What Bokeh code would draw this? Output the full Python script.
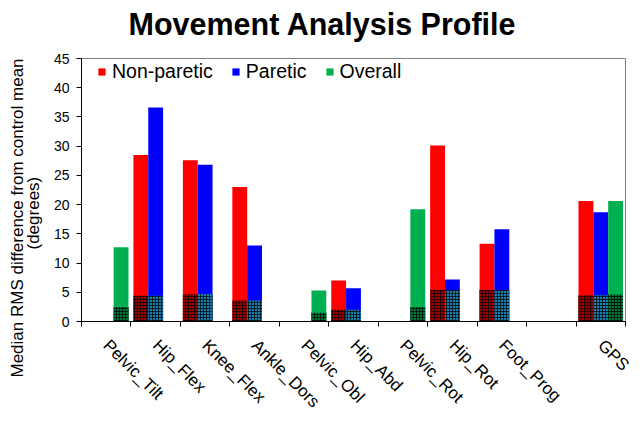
import math
from bokeh.plotting import figure
from bokeh.models import (Range1d, FixedTicker, LinearAxis, Legend, LegendItem,
                          ColumnDataSource, Title)
from bokeh.embed import file_html
from bokeh.resources import INLINE

nan = float("nan")

categories = ["Pelvic_Tilt", "Hip_Flex", "Knee_Flex", "Ankle_Dors", "Pelvic_Obl",
              "Hip_Abd", "Pelvic_Rot", "Hip_Rot", "Foot_Prog", "", "GPS"]
non_paretic = [nan, 28.5, 27.6, 23.0, nan, 7.0, nan, 30.1, 13.3, nan, 20.6]
paretic = [nan, 36.6, 26.8, 13.0, nan, 5.7, nan, 7.2, 15.8, nan, 18.7]
overall = [12.7, nan, nan, nan, 5.3, nan, 19.2, nan, nan, nan, 20.6]
non_paretic_base = [nan, 4.4, 4.7, 3.6, nan, 2.0, nan, 5.4, 5.4, nan, 4.5]
paretic_base = [nan, 4.4, 4.7, 3.6, nan, 2.0, nan, 5.4, 5.4, nan, 4.5]
overall_base = [2.5, nan, nan, nan, 1.5, nan, 2.5, nan, nan, nan, 4.6]
y_ticks = [0, 5, 10, 15, 20, 25, 30, 35, 40, 45]

FONT = "Liberation Sans"
n = len(categories)
centers = [i + 0.5 for i in range(n)]
bw = 0.3

p = figure(width=640, height=423, output_backend="svg", toolbar_location=None,
           x_range=Range1d(0, n), y_range=Range1d(0, 45),
           x_axis_type=None, y_axis_type=None)
p.min_border_left = 81
p.min_border_right = 15
p.min_border_top = 58
p.min_border_bottom = 102
p.background_fill_color = "white"
p.border_fill_color = "white"
p.outline_line_color = "#808080"
p.outline_line_width = 1

# axes
yax = LinearAxis(ticker=FixedTicker(ticks=y_ticks))
yax.major_label_text_font = FONT
yax.major_label_text_font_size = "14px"
yax.major_label_text_color = "black"
yax.axis_line_color = "black"
yax.major_tick_line_color = "black"
yax.major_tick_out = 5
yax.major_tick_in = 0
yax.minor_tick_line_color = None
yax.major_label_standoff = 7
p.add_layout(yax, "left")

xax = LinearAxis(ticker=FixedTicker(ticks=centers, minor_ticks=list(range(n + 1))))
xax.major_label_overrides = {c: name for c, name in zip(centers, categories)}
xax.major_label_orientation = -math.pi / 4
xax.major_label_text_font = FONT
xax.major_label_text_font_size = "17px"
xax.major_label_text_color = "black"
xax.major_tick_line_color = None
xax.major_tick_out = 0
xax.major_tick_in = 0
xax.minor_tick_line_color = "black"
xax.minor_tick_out = 5
xax.minor_tick_in = 0
xax.axis_line_color = "black"
xax.major_label_standoff = 16
p.add_layout(xax, "below")

p.ygrid.ticker = FixedTicker(ticks=y_ticks[1:])
p.ygrid.grid_line_color = "#8c8c8c"
p.ygrid.grid_line_width = 1
p.xgrid.grid_line_color = None

src = ColumnDataSource(dict(
    x=centers,
    x_np=[c - bw for c in centers],
    x_p=centers,
    x_o=[c + bw for c in centers],
    np_top=non_paretic, p_top=paretic, o_top=overall,
    np_base=non_paretic_base, p_base=paretic_base, o_base=overall_base,
))

r_np = p.vbar(x="x_np", top="np_top", width=bw, source=src, fill_color="#ff0000", line_color=None)
r_p = p.vbar(x="x_p", top="p_top", width=bw, source=src, fill_color="#0000ff", line_color=None)
r_o = p.vbar(x="x_o", top="o_top", width=bw, source=src, fill_color="#00b050", line_color=None)

hatch = dict(hatch_pattern="+", hatch_color="black", hatch_scale=3, hatch_weight=1, hatch_alpha=0.75, line_color=None)
p.vbar(x="x_np", top="np_base", width=bw, source=src, fill_color="#a00000", **hatch)
p.vbar(x="x_p", top="p_base", width=bw, source=src, fill_color="#1780b0", **hatch)
p.vbar(x="x_o", top="o_base", width=bw, source=src, fill_color="#007a3a", **hatch)

legend = Legend(items=[LegendItem(label="Non-paretic", renderers=[r_np]),
                       LegendItem(label="Paretic", renderers=[r_p]),
                       LegendItem(label="Overall", renderers=[r_o])],
                orientation="horizontal", location=(16, 238))
legend.label_text_font = FONT
legend.label_text_font_size = "19.5px"
legend.label_text_color = "black"
legend.glyph_width = 9
legend.glyph_height = 9
legend.label_standoff = 6
legend.spacing = 18
legend.padding = 4
legend.margin = 0
legend.background_fill_alpha = 0
legend.border_line_color = None
p.add_layout(legend, "center")

# spacer between title and frame, then the title itself
spacer = Title(text=" ", text_font_size="11px", standoff=0)
p.add_layout(spacer, "above")
t = Title(text="Movement Analysis Profile", align="left", offset=47, standoff=7)
t.text_font = FONT
t.text_font_size = "30.5px"
t.text_font_style = "bold"
t.text_color = "black"
p.add_layout(t, "above")

# y axis title: two lines as two left-side titles
t2 = Title(text="(degrees)", align="left", offset=72, standoff=11,
           vertical_align="top")
t2.text_font = FONT
t2.text_font_size = "17px"
t2.text_font_style = "normal"
t2.text_color = "black"
p.add_layout(t2, "left")
t1 = Title(text="Median RMS difference from control mean", align="left", offset=-56,
           standoff=-16, vertical_align="bottom")
t1.text_font = FONT
t1.text_font_size = "17px"
t1.text_font_style = "normal"
t1.text_color = "black"
p.add_layout(t1, "left")

open("out.html", "w").write(file_html(p, INLINE))
